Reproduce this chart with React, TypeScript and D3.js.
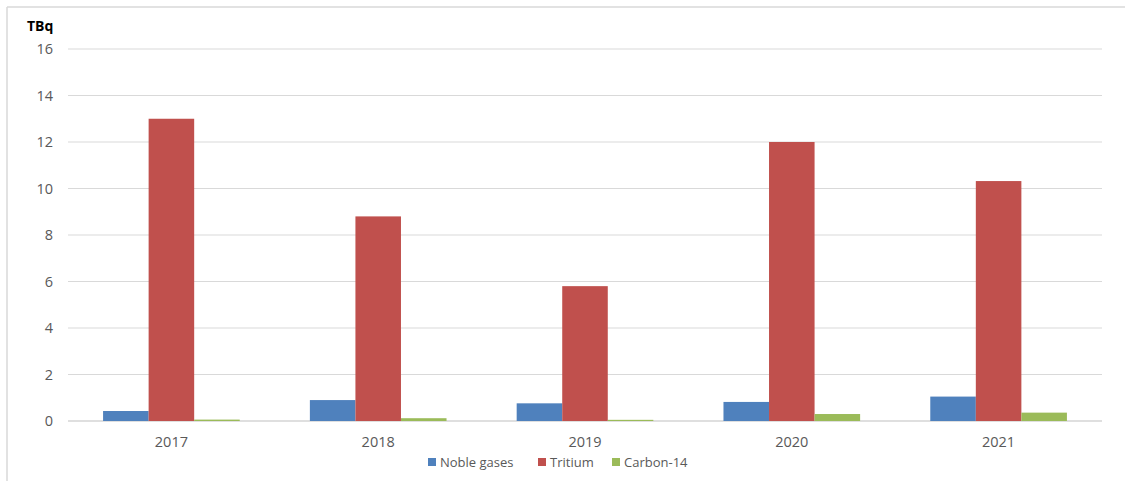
import React from "react";
import * as d3 from "d3";

const years = ["2017", "2018", "2019", "2020", "2021"];
const seriesNames = ["Noble gases", "Tritium", "Carbon-14"];
const nobleGases = [0.43, 0.9, 0.76, 0.82, 1.05];
const tritium = [13.0, 8.8, 5.8, 12.0, 10.32];
const carbon14 = [0.06, 0.12, 0.05, 0.3, 0.36];
const yTicks = [0, 2, 4, 6, 8, 10, 12, 14, 16];
const colors = ["#4F81BD", "#C0504D", "#9BBB59"];

const W = 1125;
const H = 481;
const left = 68;
const right = 1102;
const top = 49;
const bottom = 421;

export default function App() {
  const series = [nobleGases, tritium, carbon14];
  const x = d3.scaleBand<string>().domain(years).range([left, right]).paddingInner(0).paddingOuter(0);
  const y = d3.scaleLinear().domain([0, 16]).range([bottom, top]);
  const step = x.bandwidth();
  const barW = step / (3 + 1.54);
  const groupOffset = (step - 3 * barW) / 2;
  const font = "'Open Sans', 'Liberation Sans', sans-serif";

  const legendItems = [
    { name: seriesNames[0], sx: 428, tx: 440 },
    { name: seriesNames[1], sx: 538, tx: 550 },
    { name: seriesNames[2], sx: 612, tx: 624 },
  ];

  return (
    <svg width={W} height={H} style={{ position: "absolute", left: 0, top: 0, background: "#fff" }}>
      <line x1={7} y1={7} x2={W} y2={7} stroke="#d9d9d9" strokeWidth={1.5} />
      <line x1={7} y1={7} x2={7} y2={H} stroke="#d9d9d9" strokeWidth={1.5} />
      {yTicks.map((t) => (
        <g key={t}>
          <line x1={left} x2={right} y1={y(t)} y2={y(t)} stroke={t === 0 ? "#bfbfbf" : "#d9d9d9"} strokeWidth={1} />
          <text x={53} y={y(t)} dy="0.35em" textAnchor="end" fontFamily={font} fontSize={14.5} fill="#595959">
            {t}
          </text>
        </g>
      ))}
      <text x={27} y={31} fontFamily={font} fontSize={14} fontWeight="bold" fill="#000">
        TBq
      </text>
      {years.map((yr, i) => (
        <g key={yr}>
          {series.map((s, j) => (
            <rect
              key={j}
              x={(x(yr) as number) + groupOffset + j * barW}
              y={y(s[i])}
              width={barW}
              height={y(0) - y(s[i])}
              fill={colors[j]}
            />
          ))}
          <text
            x={(x(yr) as number) + step / 2}
            y={442}
            dy="0.35em"
            textAnchor="middle"
            fontFamily={font}
            fontSize={14.5}
            fill="#595959"
          >
            {yr}
          </text>
        </g>
      ))}
      {legendItems.map((it, j) => (
        <g key={it.name}>
          <rect x={it.sx} y={458} width={8} height={8} fill={colors[j]} />
          <text x={it.tx} y={462} dy="0.35em" fontFamily={font} fontSize={13} fill="#595959">
            {it.name}
          </text>
        </g>
      ))}
    </svg>
  );
}
